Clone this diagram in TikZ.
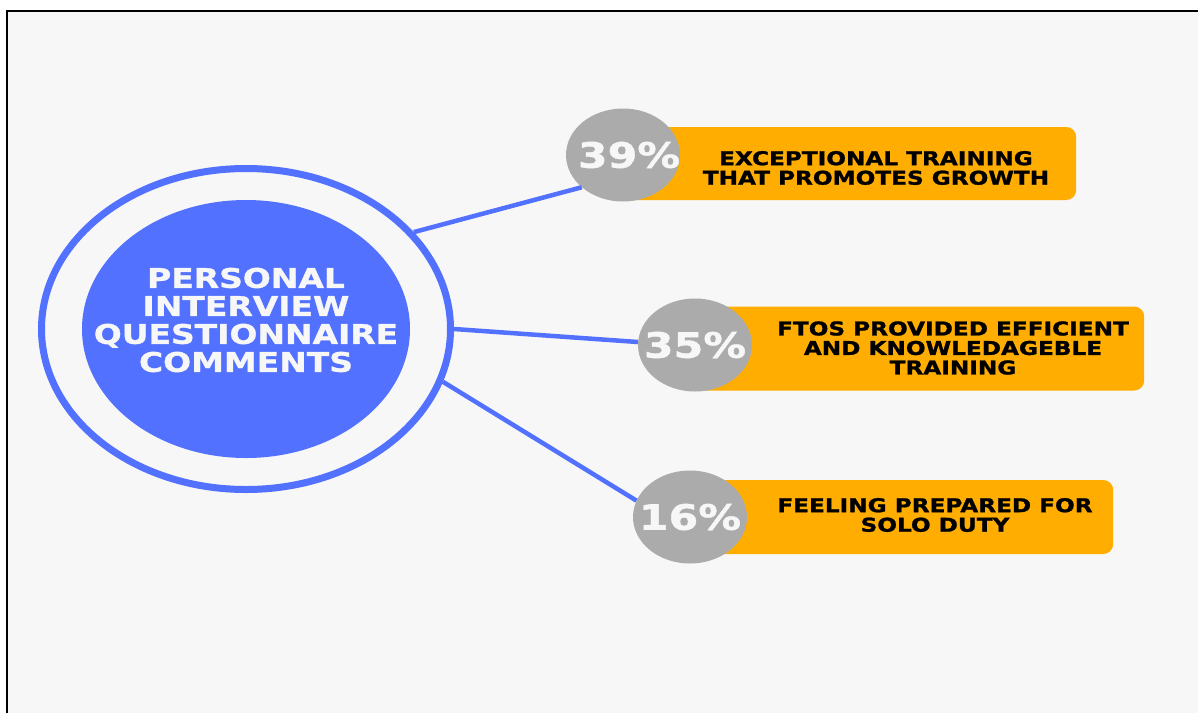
\documentclass[tikz,border=0pt]{standalone}
\usepackage{fontspec}
\newfontfamily\widefont[FakeStretch=1.22,BoldFeatures={FakeBold=1.2}]{DejaVu Sans}
\usetikzlibrary{shapes.geometric}
\definecolor{hubblue}{HTML}{5271FF}
\definecolor{barorange}{HTML}{FFAD00}
\definecolor{pctgray}{HTML}{ABABAB}
\definecolor{paper}{HTML}{F7F7F7}
\begin{document}
\begin{tikzpicture}[x=1pt,y=-1pt]
\tikzstyle{pct}=[ellipse,fill=pctgray,minimum width=114pt,minimum height=93pt,inner sep=0pt]
  \tikzstyle{pcttext}=[inner sep=0pt,text=paper,font=\widefont\bfseries\fontsize{35}{35}\selectfont]
  \tikzstyle{bar}=[rectangle,fill=barorange,rounded corners=10pt,inner sep=0pt,anchor=west]
  \tikzstyle{caption}=[align=center,inner sep=0pt,font=\widefont\bfseries\fontsize{19}{19.5}\selectfont]
  \tikzstyle{link}=[draw=hubblue,line width=4.5pt]

  \useasboundingbox (0,0) rectangle (1198,713);
  \fill[white] (0,0) rectangle (1198,713);
  \fill[paper] (7,11) rectangle (1198,713);
  \draw[line width=2pt] (7,713) -- (7,11) -- (1198,11);

  % hub
  \node[ellipse,draw=hubblue,line width=7pt,minimum width=409pt,minimum height=321pt] (ring) at (246,329) {};
  \node[ellipse,fill=hubblue,minimum width=328pt,minimum height=258pt] (hub) at (246,329) {};
  \node[align=center,inner sep=0pt,text=paper,font=\widefont\bfseries\fontsize{27}{28}\selectfont] (title) at (246,320)
    {PERSONAL\\INTERVIEW\\QUESTIONNAIRE\\COMMENTS};

  % bars
  \node[bar,minimum width=453pt,minimum height=73pt] (bar39) at (623,163.5) {};
  \node[bar,minimum width=449pt,minimum height=84pt] (bar35) at (695,348.5) {};
  \node[bar,minimum width=423pt,minimum height=74pt] (bar16) at (690,517) {};
  \node[caption] (cap39) at (876,168) {EXCEPTIONAL TRAINING\\THAT PROMOTES GROWTH};
  \node[caption] (cap35) at (953,348) {FTOS PROVIDED EFFICIENT\\AND KNOWLEDAGEBLE\\TRAINING};
  \node[caption] (cap16) at (935,515) {FEELING PREPARED FOR\\SOLO DUTY};

  \node[pct,label={[pcttext,xshift=6pt]center:39\%}] (p39) at (623,155) {};
  \node[pct,label={[pcttext]center:35\%}] (p35) at (695,345) {};
  \node[pct,label={[pcttext]center:16\%}] (p16) at (690,517) {};

  \draw[link] (ring.30) -- (p39.218);
  \draw[link] (ring.0) -- (p35.177);
  \draw[link] (ring.-15) -- (p16.163);
\end{tikzpicture}
\end{document}
